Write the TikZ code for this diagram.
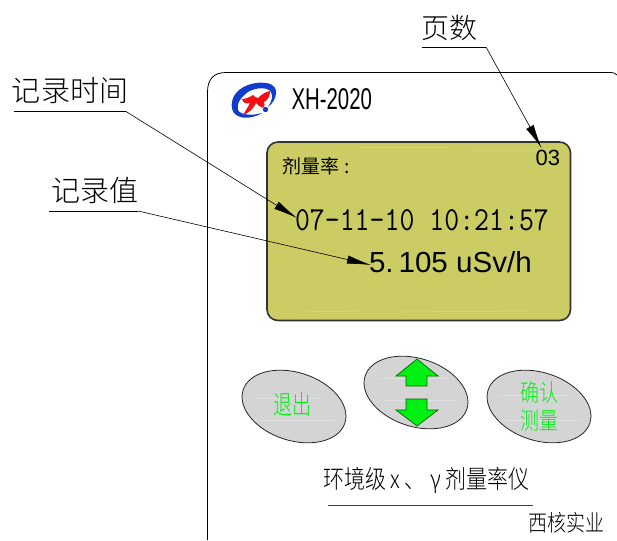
\documentclass[tikz,border=0pt]{standalone}
\usepackage{fontspec}
\setmainfont{Liberation Sans}
\newfontfamily\cjk{Noto Sans CJK SC}
\newfontfamily\cjkthin{Noto Sans CJK SC Light}
\usetikzlibrary{arrows.meta,shapes.geometric}
\definecolor{lcdc}{RGB}{203,204,100}
\definecolor{btn}{RGB}{212,212,212}
\definecolor{grn}{RGB}{0,240,20}
\definecolor{logob}{RGB}{15,60,205}
\definecolor{logor}{RGB}{245,15,20}
\tikzset{
 lead/.style={draw=black,line width=.6pt},
 leadarrow/.style={lead,-{Latex[length=24pt,width=8.5pt]}},
 txt/.style={inner sep=0pt,outer sep=0pt,text=black},
 btnshape/.style={ellipse,draw=black!85,fill=btn,line width=.8pt,minimum width=107pt,minimum height=68pt,rotate=-18,inner sep=0pt},
 gtxt/.style={inner sep=0pt,text=grn},
 arr/.style={draw=black!60!green,fill=grn,line width=.7pt,line join=miter},
 gloss/.style={white,opacity=.3,line width=.5pt},
}
\begin{document}
\begin{tikzpicture}[x=1pt,y=-1pt]
\useasboundingbox (0,0) rectangle (617,540);
% case
\draw[line width=.8pt,black] (207.5,540) -- (207.5,92) .. controls (207.5,80) and (213,72.5) .. (226,72.5) -- (611,72.5) .. controls (613,72.5) and (615,73) .. (617,75);
% logo
\fill[logob] (262,113) .. controls (254,118) and (244,119) .. (238,116)
  .. controls (231,113) and (230,104) .. (234,96)
  .. controls (239,87) and (253,81) .. (266,83)
  .. controls (274,84) and (277,89) .. (276,94)
  .. controls (275,100) and (272,104) .. (268,107)
  .. controls (272,101) and (273,96) .. (271,92)
  .. controls (268,87) and (256,87) .. (248,92)
  .. controls (241,97) and (236,104) .. (238,110)
  .. controls (240,115) and (252,116) .. (262,113) -- cycle;
\fill[logor] (243,115) .. controls (246,110) and (248,107) .. (250,103)
  .. controls (246,104) and (243,103) .. (242,99)
  .. controls (246,99) and (250,97) .. (253,95)
  .. controls (255,97) and (256,98) .. (258,98)
  .. controls (261,95) and (265,92) .. (270,91)
  .. controls (270,96) and (268,100) .. (264,102)
  .. controls (265,104) and (265,106) .. (263,108)
  .. controls (260,107) and (258,105) .. (256,103)
  .. controls (254,108) and (249,113) .. (243,115) -- cycle;
\fill[logob] (265.5,109.5) circle (2.7pt);
\node[txt,font=\fontsize{30}{30}\selectfont,xscale=.68,anchor=base west] (model) at (291.5,109.5) {XH-2020};
% lcd
\draw[line width=1.6pt,black!80,fill=lcdc,rounded corners=11pt] (267,142) rectangle (570.5,320.5);
\draw[gloss] (360,147.5) -- (450,147.5) (470,150) -- (540,150) (300,312) -- (360,311) (400,312) -- (530,311);
\node[txt,font=\cjk\fontsize{19}{20}\selectfont,anchor=base west] (rate) at (282,173) {剂量率\kern6pt:};
\node[txt,font=\fontsize{22}{24}\selectfont,anchor=base east] (page) at (560,165) {03};
\node[txt,font=\ttfamily\fontsize{29}{30}\selectfont,yscale=1.16,anchor=base west] (time) at (295,230) {07-11-10 10:21:57};
\node[txt,font=\fontsize{29}{30}\selectfont,xscale=1.02,anchor=base west] (val) at (369,272) {5.\,105 uSv/h};
% labels
\node[txt,font=\cjkthin\fontsize{28}{28}\selectfont,anchor=base west] (lpage) at (421,38.5) {页数};
\node[txt,font=\cjkthin\fontsize{29}{29}\selectfont,anchor=base west] (ltime) at (12,101.5) {记录时间};
\node[txt,font=\cjkthin\fontsize{29}{29}\selectfont,anchor=base west] (lval) at (51,201.5) {记录值};
\coordinate (pa) at (422,47);\coordinate (pb) at (486,47);\coordinate (pe) at (541.5,148);
\coordinate (ta) at (14,111.5);\coordinate (tb) at (126,111.5);\coordinate (te) at (297,218);
\coordinate (va) at (49,211);\coordinate (vb) at (138,211);\coordinate (ve) at (371,265);
\draw[lead] (pa) -- (pb); \draw[leadarrow] (pb) -- (pe);
\draw[lead] (ta) -- (tb); \draw[leadarrow] (tb) -- (te);
\draw[lead] (va) -- (vb); \draw[leadarrow] (vb) -- (ve);
% buttons
\node[btnshape] (b1) at (294,406.5) {};
\node[btnshape] (b2) at (416,392.5) {};
\node[btnshape] (b3) at (539,406.5) {};
\draw[gloss] (255,398) -- (320,398) (262,420) -- (335,420) (380,378) -- (450,378) (385,400) -- (455,400) (500,395) -- (570,395) (505,420) -- (580,420);
\node[gtxt,font=\cjkthin\fontsize{19}{24}\selectfont,yscale=1.4] (exit) at (292,404) {退出};
\node[gtxt,font=\cjkthin\fontsize{19}{22.5}\selectfont,yscale=1.25,align=center] (ok) at (539,406.5) {确认\\测量};
\draw[arr] (417,359) -- (438,376) -- (427,376) -- (427,386) -- (406,386) -- (406,376) -- (396,376) -- cycle;
\draw[arr] (417,426) -- (438,410) -- (427,410) -- (427,399) -- (406,399) -- (406,410) -- (396,410) -- cycle;
% footer
\node[txt,font=\cjkthin\fontsize{21}{22}\selectfont,yscale=1.2,anchor=base west] (title) at (323,488.5) {环境级 x 、 γ 剂量率仪};
\coordinate (ua) at (328,505);\coordinate (ub) at (533,505);
\draw[line width=.8pt,black!75] (ua) -- (ub);
\node[txt,font=\cjkthin\fontsize{19}{20}\selectfont,yscale=1.2,anchor=base west] (co) at (528,531.5) {西核实业};
\end{tikzpicture}
\end{document}
